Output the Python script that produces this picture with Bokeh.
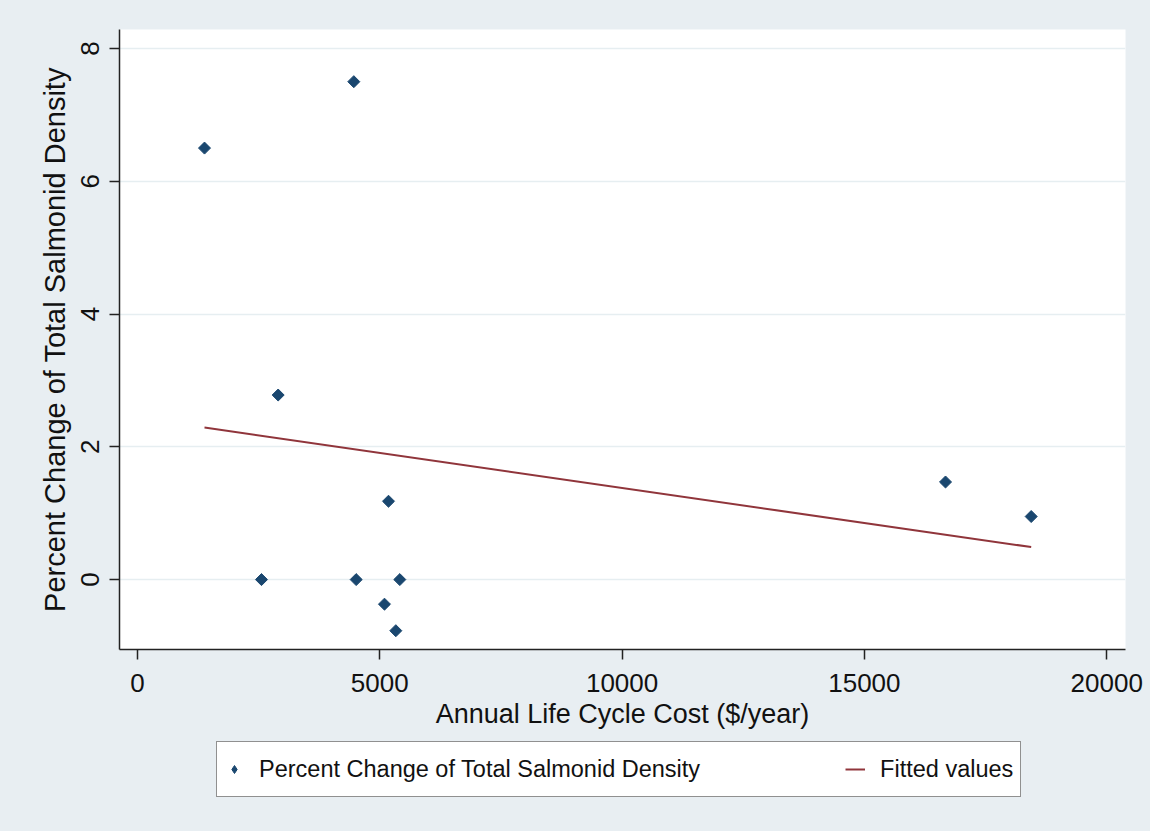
from bokeh.plotting import figure
from bokeh.layouts import column
from bokeh.models import Range1d, FixedTicker, Legend, LegendItem
from bokeh.embed import file_html
from bokeh.resources import INLINE

# Data
cost = [1383, 4464, 2903, 5180, 2559, 4513, 5413, 5097, 5331, 16674, 18442]
pct_change = [6.5, 7.5, 2.78, 1.18, 0.0, 0.0, 0.0, -0.37, -0.77, 1.47, 0.95]
fit_x = [1383, 18442]
fit_y = [2.29, 0.49]
x_ticks = [0, 5000, 10000, 15000, 20000]
y_ticks = [0, 2, 4, 6, 8]
series_labels = ["Percent Change of Total Salmonid Density", "Fitted values"]

BG = "#e8eef2"
NAVY = "#1a476f"
MAROON = "#90353b"
FONT = "Liberation Sans"
NAN = float("nan")

p = figure(frame_width=1006, frame_height=620, output_backend="svg", toolbar_location=None,
           x_range=Range1d(-371, 20388), y_range=Range1d(-1.053, 8.286),
           min_border_left=119, min_border_top=29, min_border_right=25,
           min_border_bottom=90)
p.border_fill_color = BG
p.background_fill_color = "white"
p.outline_line_color = None

p.scatter(cost, pct_change, marker="square", angle=0.785398, size=8.5,
          fill_color=NAVY, line_color=NAVY)
p.line(fit_x, fit_y, line_color=MAROON, line_width=2)

# axes
p.xaxis.ticker = FixedTicker(ticks=x_ticks)
p.yaxis.ticker = FixedTicker(ticks=y_ticks)
for ax in (p.xaxis[0], p.yaxis[0]):
    ax.axis_line_color = "#222222"
    ax.axis_line_width = 1.5
    ax.major_tick_line_color = "#222222"
    ax.major_tick_line_width = 1.5
    ax.major_tick_out = 10
    ax.major_tick_in = 0
    ax.minor_tick_line_color = None
    ax.major_label_text_font = FONT
    ax.major_label_text_font_size = "26px"
    ax.major_label_text_color = "#111111"
    ax.axis_label_text_font = FONT
    ax.axis_label_text_font_style = "normal"
    ax.axis_label_text_color = "#111111"

p.xaxis.major_label_standoff = 14
p.xaxis.axis_label_standoff = 4
p.yaxis.major_label_standoff = 10
p.yaxis.axis_label_standoff = 8

p.xaxis.axis_label = "Annual Life Cycle Cost ($/year)"
p.xaxis.axis_label_text_font_size = "27px"
p.yaxis.axis_label = "Percent Change of Total Salmonid Density"
p.yaxis.axis_label_text_font_size = "29px"
p.yaxis.major_label_orientation = "vertical"

p.xgrid.grid_line_color = None
p.ygrid.grid_line_color = "#e6eef1"
p.ygrid.grid_line_width = 1.5

# Legend strip below the plot (legend-only renderers, nothing drawn in the strip)
lg = figure(width=1150, height=92, output_backend="svg", toolbar_location=None,
            x_axis_type=None, y_axis_type=None, min_border=0,
            x_range=Range1d(0, 1), y_range=Range1d(0, 1))
lg.background_fill_alpha = 0
lg.border_fill_color = BG
lg.outline_line_color = None
lg.grid.grid_line_color = None
leg_sc = lg.scatter(x=[NAN], y=[NAN], marker="diamond", size=13,
                    fill_color=NAVY, line_color=NAVY)
leg_ln = lg.line(x=[NAN, NAN], y=[NAN, NAN], line_color=MAROON, line_width=2)

legend = Legend(items=[
    LegendItem(label=series_labels[0], renderers=[leg_sc]),
    LegendItem(label=series_labels[1], renderers=[leg_ln]),
], orientation="horizontal", location=(97, 34))
legend.label_text_font = FONT
legend.label_text_font_size = "23.5px"
legend.label_text_color = "#111111"
legend.padding = 7
legend.spacing = 145
legend.glyph_width = 20
legend.glyph_height = 40
legend.label_standoff = 15
legend.border_line_color = "#222222"
legend.border_line_width = 1.5
legend.background_fill_color = "white"
legend.background_fill_alpha = 1.0
legend.margin = 0
lg.add_layout(legend, "center")

layout = column(p, lg, spacing=0, styles={"background-color": BG})
open("out.html", "w").write(file_html(layout, INLINE))
